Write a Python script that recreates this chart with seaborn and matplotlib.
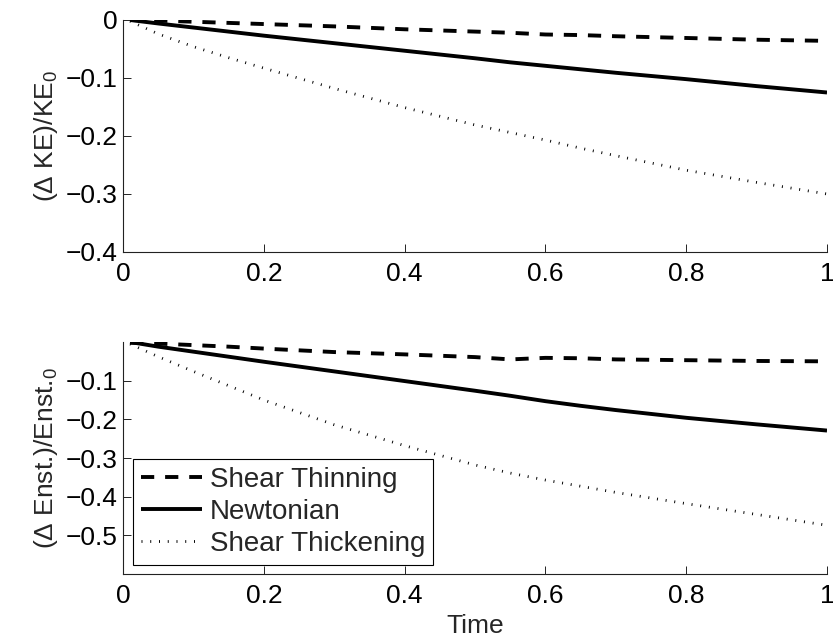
import matplotlib
matplotlib.use("Agg")
import matplotlib.pyplot as plt
import seaborn as sns
import pandas as pd
from matplotlib.ticker import FuncFormatter
from matplotlib.lines import Line2D

# ---- data ----
time = [0.01, 0.05, 0.1, 0.15, 0.2, 0.3, 0.4, 0.5, 0.55, 0.6, 0.65, 0.7, 0.8, 0.9, 1.0]

ke_thinning = [0.0, -0.001, -0.003, -0.005, -0.007, -0.011, -0.016, -0.020, -0.022,
               -0.025, -0.026, -0.028, -0.031, -0.034, -0.036]
ke_newtonian = [0.0, -0.006, -0.013, -0.020, -0.027, -0.040, -0.053, -0.066, -0.073,
                -0.079, -0.085, -0.091, -0.102, -0.114, -0.125]
ke_thickening = [-0.002, -0.024, -0.046, -0.065, -0.083, -0.118, -0.151, -0.181, -0.194,
                 -0.207, -0.221, -0.234, -0.259, -0.280, -0.300]

en_thinning = [-0.002, -0.004, -0.008, -0.012, -0.017, -0.026, -0.032, -0.039, -0.045,
               -0.041, -0.042, -0.045, -0.047, -0.049, -0.050]
en_newtonian = [0.0, -0.012, -0.025, -0.038, -0.051, -0.076, -0.101, -0.126, -0.139,
                -0.153, -0.165, -0.176, -0.196, -0.213, -0.229]
en_thickening = [-0.005, -0.038, -0.076, -0.113, -0.150, -0.214, -0.268, -0.318, -0.339,
                 -0.357, -0.373, -0.389, -0.418, -0.446, -0.474]

series_names = ["Shear Thinning", "Newtonian", "Shear Thickening"]
x_ticks = [0, 0.2, 0.4, 0.6, 0.8, 1]
ke_ticks = [0, -0.1, -0.2, -0.3, -0.4]
en_ticks = [-0.5, -0.4, -0.3, -0.2, -0.1]

# ---- style ----
sns.set_style("ticks")
plt.rcParams["font.family"] = ["Liberation Sans", "DejaVu Sans"]
plt.rcParams["mathtext.default"] = "regular"
plt.rcParams["axes.linewidth"] = 0.8

FS = 19
LW = 2.8
styles = {
    "Shear Thinning": dict(lw=LW, linestyle=(0, (3.4, 2.8)), dash_capstyle="butt"),
    "Newtonian": dict(lw=LW, linestyle="-", solid_capstyle="butt"),
    "Shear Thickening": dict(lw=2.0, linestyle=(0, (0.35, 2.8)), dash_capstyle="butt"),
}

fig = plt.figure(figsize=(8.33, 6.43), dpi=100)
ax1 = fig.add_axes([0.1477, 0.6081, 0.8451, 0.3608])
ax2 = fig.add_axes([0.1477, 0.1073, 0.8451, 0.3608])

ke = pd.DataFrame({"time": time, "Shear Thinning": ke_thinning,
                   "Newtonian": ke_newtonian, "Shear Thickening": ke_thickening})
en = pd.DataFrame({"time": time, "Shear Thinning": en_thinning,
                   "Newtonian": en_newtonian, "Shear Thickening": en_thickening})

for ax, df in [(ax1, ke), (ax2, en)]:
    for name in series_names:
        sns.lineplot(data=df, x="time", y=name, ax=ax, color="black", **styles[name])


def tick_fmt(v, p):
    if abs(v) < 1e-9:
        return "0"
    return ("%g" % v).replace("-", "\u2212")


fmt = FuncFormatter(tick_fmt)
for ax in (ax1, ax2):
    ax.set_xlim(0, 1)
    ax.set_xticks(x_ticks)
    ax.xaxis.set_major_formatter(fmt)
    ax.yaxis.set_major_formatter(fmt)
    ax.tick_params(axis="both", direction="in", length=5.5, width=0.6,
                   labelsize=FS, colors="black")
    ax.tick_params(axis="x", pad=7.5)
    ax.tick_params(axis="y", pad=4)
    sns.despine(ax=ax, top=True, right=True)
    for s in ("left", "bottom"):
        ax.spines[s].set_color("#222222")
    ax.set_xlabel("")

ax1.set_ylim(-0.4, 0)
ax1.set_yticks(ke_ticks)
ax2.set_ylim(-0.6, 0)
ax2.set_yticks(en_ticks)

ax1.set_ylabel("(Δ KE)/KE$_0$", fontsize=FS, labelpad=4)
ax2.set_ylabel("(Δ Enst.)/Enst.$_0$", fontsize=FS, labelpad=4)
ax2.set_xlabel("Time", fontsize=FS, labelpad=4)

handles = [Line2D([], [], color="black", **styles[n]) for n in series_names]
leg = ax2.legend(handles, series_names, loc="lower left", bbox_to_anchor=(0.014, 0.039),
                 borderaxespad=0, fontsize=20, frameon=True, fancybox=False,
                 framealpha=1, edgecolor="black", handlelength=2.2,
                 handletextpad=0.3, labelspacing=0.22, borderpad=0.28)
leg.get_frame().set_linewidth(0.8)

fig.savefig("out.png", dpi=100)
